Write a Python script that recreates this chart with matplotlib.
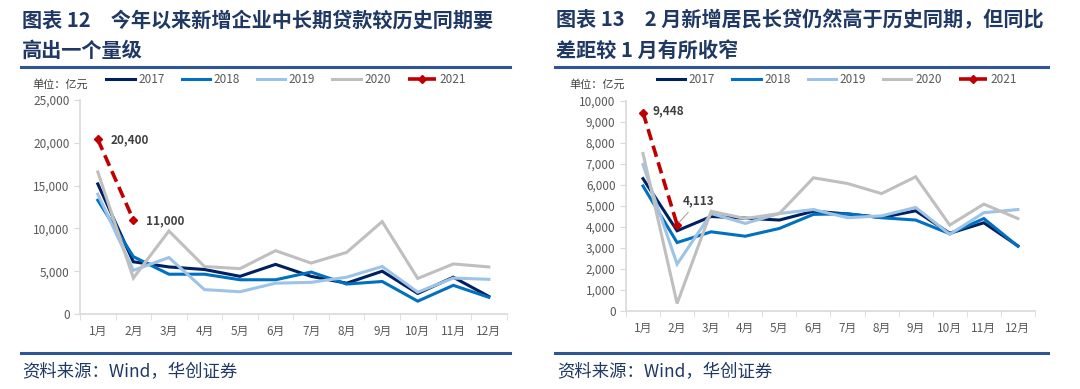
import matplotlib
matplotlib.use("Agg")
import matplotlib.pyplot as plt
import numpy as np

plt.rcParams["font.family"] = ["Noto Sans CJK SC", "DejaVu Sans"]

months = ["1月", "2月", "3月", "4月", "5月", "6月", "7月", "8月", "9月", "10月", "11月", "12月"]
years = ["2017", "2018", "2019", "2020", "2021"]

# 新增企业中长期贷款（亿元）
corp_2017 = [15200, 6100, 5500, 5200, 4400, 5800, 4400, 3600, 5000, 2400, 4300, 2050]
corp_2018 = [13300, 6700, 4650, 4650, 4000, 4000, 4900, 3500, 3800, 1500, 3350, 1950]
corp_2019 = [14000, 5100, 6600, 2850, 2600, 3600, 3700, 4300, 5550, 2550, 4200, 4050]
corp_2020 = [16600, 4200, 9700, 5550, 5300, 7400, 5950, 7200, 10800, 4150, 5850, 5500]
corp_2021 = [20400, 11000]

# 新增居民中长期贷款（亿元）
hh_2017 = [6300, 3820, 4500, 4420, 4330, 4750, 4620, 4450, 4770, 3700, 4200, 3100]
hh_2018 = [5950, 3260, 3770, 3560, 3930, 4600, 4630, 4440, 4330, 3680, 4400, 3080]
hh_2019 = [6970, 2230, 4640, 4170, 4640, 4830, 4440, 4530, 4930, 3650, 4680, 4830]
hh_2020 = [7500, 360, 4750, 4400, 4640, 6340, 6070, 5590, 6390, 4090, 5090, 4400]
hh_2021 = [9448, 4113]

colors = ["#002060", "#0070C0", "#9DC3E6", "#BFBFBF"]
red = "#C00000"
title_blue = "#1F3864"
rule_blue = "#2F5597"
tick_gray = "#595959"
axis_gray = "#D9D9D9"

fig = plt.figure(figsize=(10.8, 3.89), dpi=100)


def draw_panel(rect, series, last, ymax, ystep, notes):
    ax = fig.add_axes(rect)
    x = np.arange(len(months))
    for vals, c, name in zip(series, colors, years[:4]):
        ax.plot(x, vals, color=c, lw=2.2, label=name, solid_joinstyle="miter")
    ax.plot(np.arange(len(last)), last, color=red, lw=2.6, ls=(0, (3.2, 1.6)),
            marker="D", ms=4.5, label=years[4])
    ax.set_xlim(-0.5, len(months) - 0.5)
    ax.set_ylim(0, ymax)
    ax.set_yticks(np.arange(0, ymax + 1, ystep))
    ax.set_yticklabels([f"{v:,}" for v in np.arange(0, ymax + 1, ystep)])
    ax.set_xticks(x)
    ax.set_xticklabels(months)
    ax.set_xticks(np.arange(-0.5, len(months)), minor=True)
    for s in ["top", "right"]:
        ax.spines[s].set_visible(False)
    for s in ["left", "bottom"]:
        ax.spines[s].set_color(axis_gray)
        ax.spines[s].set_linewidth(1.2)
    ax.tick_params(axis="x", which="major", length=0, pad=8, labelsize=8.5, labelcolor=tick_gray)
    ax.tick_params(axis="x", which="minor", length=4, color=axis_gray)
    ax.tick_params(axis="y", length=4, color=axis_gray, labelsize=8.5, labelcolor=tick_gray)
    for i, txt, dx, dy, leader in notes:
        ax.annotate(txt, (i, last[i]), xytext=(dx, dy), textcoords="offset points",
                    fontsize=8.5, fontweight="bold", color="#404040", va="center",
                    arrowprops=dict(arrowstyle="-", color="#A6A6A6", lw=0.8) if leader else None)
    return ax


ax1 = draw_panel([0.0741, 0.1928, 0.395, 0.550],
                 [corp_2017, corp_2018, corp_2019, corp_2020], corp_2021, 25000, 5000,
                 [(0, "20,400", 9, 0, False), (1, "11,000", 9, -1, False)])
ax2 = draw_panel([0.5796, 0.2005, 0.3787, 0.540],
                 [hh_2017, hh_2018, hh_2019, hh_2020], hh_2021, 10000, 1000,
                 [(0, "9,448", 7, 1, False), (1, "4,113", 4, 17, True)])

for ax, lx, ux in [(ax1, 0.094, 0.030), (ax2, 0.604, 0.527)]:
    ax.legend(loc="center left", bbox_to_anchor=(lx, 0.795), bbox_transform=fig.transFigure,
              ncol=5, frameon=False, fontsize=8.5, handlelength=2.4, columnspacing=1.45,
              handletextpad=0.3, labelcolor=tick_gray, borderaxespad=0)
    fig.text(ux, 0.782, "单位：亿元", fontsize=8, color="#404040", va="center")

# titles
fig.text(0.020, 0.948, "图表 12　今年以来新增企业中长期贷款较历史同期要",
         fontsize=14.5, fontweight="bold", color=title_blue, va="center")
fig.text(0.020, 0.870, "高出一个量级", fontsize=14.5, fontweight="bold", color=title_blue, va="center")
fig.text(0.515, 0.948, "图表 13　2 月新增居民长贷仍然高于历史同期，但同比",
         fontsize=14.5, fontweight="bold", color=title_blue, va="center")
fig.text(0.515, 0.870, "差距较 1 月有所收窄", fontsize=14.5, fontweight="bold", color=title_blue, va="center")

# rules and source
for x0, x1, sx in [(0.019, 0.472, 0.021), (0.514, 0.970, 0.516)]:
    for yy in [1 - 67 / 389, 1 - 353 / 389]:
        fig.add_artist(plt.Line2D([x0, x1], [yy, yy], color=rule_blue, lw=2.2,
                                  transform=fig.transFigure))
    fig.text(sx, 1 - 372 / 389, "资料来源：Wind，华创证券", fontsize=12.5, style="italic",
             color=title_blue, va="center")

fig.savefig("out.png", dpi=100)
